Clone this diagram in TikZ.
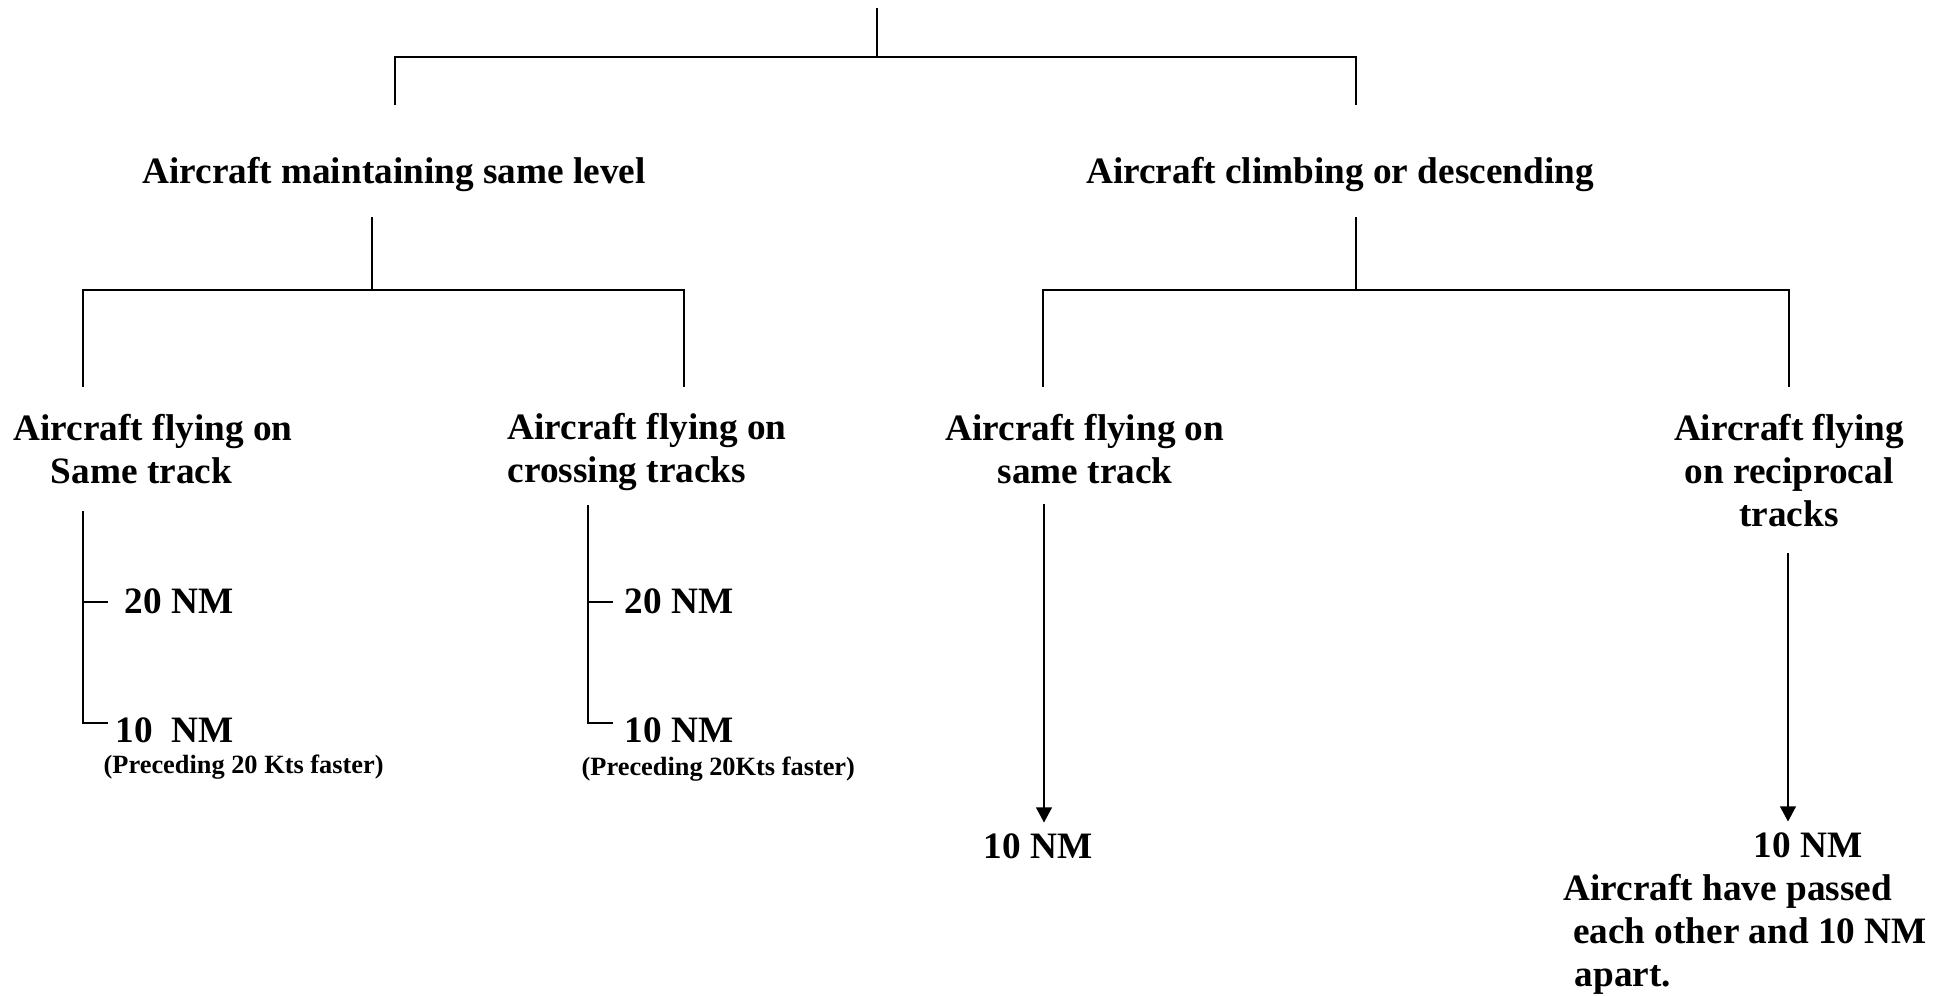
\documentclass[tikz,border=0pt]{standalone}
\usepackage{fontspec}
\setmainfont{Liberation Serif}
\usetikzlibrary{arrows.meta,positioning,calc}
\tikzset{
  lbl/.style  ={inner sep=0pt, font=\fontsize{10.6pt}{12.2pt}\selectfont\bfseries},
  note/.style ={inner sep=0pt, font=\fontsize{7.5pt}{9pt}\selectfont\bfseries},
  ln/.style   ={draw=black, line width=.45pt},
  arr/.style  ={-{Triangle[length=4.3pt,width=4.5pt]}, draw=black, line width=.45pt,
                shorten >=1mm},
}

\begin{document}
\begin{tikzpicture}[x=0.1mm,y=-0.1mm]
  \useasboundingbox (0,0) rectangle (1950,995);

  % top split
  \coordinate (root) at (877,8);
  \coordinate (j1l) at (395,57);
  \coordinate (j1r) at (1356,57);
  \coordinate (d1l) at (395,105);
  \coordinate (d1r) at (1356,105);
  \draw[ln] (root) -- (root |- j1l);
  \draw[ln] (d1l) -- (j1l) -- (j1r) -- (d1r);

  \node[lbl,anchor=base] (maint) at (394,183) {Aircraft maintaining same level};
  \node[lbl,anchor=base] (climb) at (1340,183) {Aircraft climbing or descending};

  % same level branch
  \coordinate (m0) at (372,217);
  \coordinate (ml) at (83,290);
  \coordinate (mr) at (684,290);
  \draw[ln] (m0) -- (m0 |- ml);
  \draw[ln] (ml |- 0,387) -- (ml) -- (mr) -- (mr |- 0,387);

  % climbing branch
  \coordinate (c0) at (1356,217);
  \coordinate (cl) at (1043,290);
  \coordinate (cr) at (1789,290);
  \draw[ln] (c0) -- (c0 |- cl);
  \draw[ln] (cl |- 0,387) -- (cl) -- (cr) -- (cr |- 0,387);

  % base = last line
  \node[lbl,align=left,anchor=base west] (same) at (13,483)
    {Aircraft flying on\\\hspace*{1em}Same track};
  \node[lbl,align=left,anchor=base west] (cross) at (507,482)
    {Aircraft flying on\\crossing tracks};
  \node[lbl,align=center,anchor=base] (clsame) at (1085,483)
    {Aircraft flying on\\same track};
  \node[lbl,align=center,anchor=base] (recip) at (1789,526)
    {Aircraft flying\\on reciprocal\\tracks};

  % same track
  \coordinate (s0) at (83,511);
  \coordinate (s20) at (108,602);
  \coordinate (s10) at (108,723);
  \draw[ln] (s0) |- (s10);
  \draw[ln] (s0 |- s20) -- (s20);
  \node[lbl,anchor=base west] (sa20) at (124,613) {20 NM};
  \node[lbl,anchor=base west] (sa10) at (115,742) {10\ \ NM};
  \node[note,anchor=base west] (sanote) at (103,773) {(Preceding 20 Kts faster)};

  % crossing tracks
  \coordinate (x0) at (588,505);
  \coordinate (x20) at (613,602);
  \coordinate (x10) at (613,723);
  \draw[ln] (x0) |- (x10);
  \draw[ln] (x0 |- x20) -- (x20);
  \node[lbl,anchor=base west] (cr20) at (624,613) {20 NM};
  \node[lbl,anchor=base west] (cr10) at (624,742) {10 NM};
  \node[note,anchor=base west] (crnote) at (581,775) {(Preceding 20Kts faster)};

  % climbing / descending
  \node[lbl,anchor=base] (cl10) at (1038,858) {10 NM};
  \coordinate (a3) at (1044,504);
  \draw[arr] (a3) -- (a3 |- cl10.north);

  \node[lbl,anchor=base] (re10) at (1808,857) {10 NM};
  \coordinate (a4) at (1788,553);
  \draw[arr] (a4) -- (a4 |- re10.north);
  \node[lbl,align=left,anchor=base west] (passed) at (1563,986)
    {Aircraft have passed\\\hspace*{.25em}each other and 10 NM\\\hspace*{.3em}apart.};
\end{tikzpicture}
\end{document}
